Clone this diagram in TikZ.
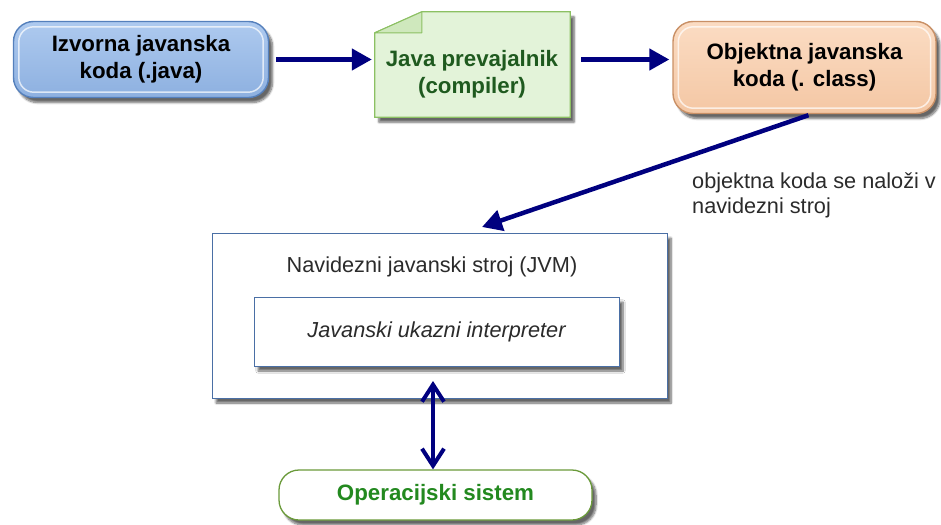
\documentclass[tikz,border=0pt]{standalone}
\usepackage{fontspec}
\setmainfont{Liberation Sans}
\usetikzlibrary{arrows.meta,shadows.blur,calc}

\definecolor{navyarrow}{HTML}{00007F}
\definecolor{srcfillA}{HTML}{AECAEF}
\definecolor{srcfillB}{HTML}{8DB0E0}
\definecolor{srcline}{HTML}{5580BC}
\definecolor{notefill}{HTML}{E3F3D9}
\definecolor{notefold}{HTML}{CFE8BD}
\definecolor{noteline}{HTML}{8CC063}
\definecolor{notetext}{HTML}{1F5A1F}
\definecolor{objfillA}{HTML}{FBDCC3}
\definecolor{objfillB}{HTML}{F4C7A4}
\definecolor{objline}{HTML}{C99066}
\definecolor{vmline}{HTML}{4A6FA5}
\definecolor{osline}{HTML}{6A9A3A}
\definecolor{ostext}{HTML}{23891F}
\definecolor{labeltext}{HTML}{2B2B2B}

\tikzset{
  softshadow/.style={blur shadow={shadow xshift=4pt, shadow yshift=-5pt,
      shadow blur steps=8, shadow opacity=60}},
  txt/.style={font=\fontsize{21.7}{26}\selectfont, align=center},
  boldtxt/.style={align=center, font=\fontsize{22.3}{27}\selectfont\bfseries},
  glossbox/.style={rounded corners=20pt, inner sep=0pt, line width=1.4pt, softshadow},
  srcbox/.style={glossbox, draw=srcline, top color=srcfillA, bottom color=srcfillB,
      minimum width=255pt, minimum height=76pt},
  objbox/.style={glossbox, draw=objline, top color=objfillA, bottom color=objfillB,
      minimum width=263pt, minimum height=92pt},
  highlight/.style={draw=white, opacity=.7, line width=1.5pt, rounded corners=15pt},
  notearea/.style={inner sep=0pt, minimum width=195pt, minimum height=105pt},
  notebody/.style={fill=notefill, draw=noteline, line width=1.2pt, softshadow},
  vmbox/.style={draw=vmline, fill=white, line width=1pt, inner sep=0pt, softshadow},
  osbox/.style={draw=osline, fill=white, line width=1.3pt, rounded corners=20pt,
      inner sep=0pt, minimum width=313pt, minimum height=50pt, softshadow,
      text=ostext, boldtxt},
  flow/.style={draw=navyarrow, line width=4.5pt,
      -{Triangle[length=20pt, width=21pt]}},
  twoway/.style={draw=navyarrow, line width=4pt,
      {Straight Barb[length=17pt, width=22pt, line width=4pt]}-{Straight Barb[length=17pt, width=22pt, line width=4pt]}},
}

\begin{document}
\begin{tikzpicture}[x=1pt, y=-1pt]
\useasboundingbox (0,0) rectangle (941,524);

% source code box
\node[srcbox] (src) at (141,59.5) {};
\draw[highlight] ($(src.north west)+(6,6)$) rectangle ($(src.south east)+(-6,-6)$);
\node[boldtxt, text=black] (srctext) at (src) {Izvorna javanska\\koda (.java)};

% compiler note with folded corner
\node[notearea] (comp) at (472.5,64.5) {};
\path[notebody] (comp.south west) -- ($(comp.north west)+(0,21)$)
  -- ($(comp.north west)+(47,0)$) -- (comp.north east) -- (comp.south east) -- cycle;
\path[fill=notefold, draw=noteline, line width=1pt, line join=round]
  ($(comp.north west)+(0,21)$) -- ($(comp.north west)+(47,0)$)
  -- ($(comp.north west)+(47,21)$) -- cycle;
\node[boldtxt, text=notetext] (comptext) at (472,74) {Java prevajalnik\\(compiler)};

% object code box
\node[objbox] (obj) at (804.5,67.5) {};
\draw[highlight] ($(obj.north west)+(6,6)$) rectangle ($(obj.south east)+(-6,-6)$);
\node[boldtxt, text=black] (objtext) at (obj) {Objektna javanska\\koda (. class)};

% virtual machine
\node[vmbox, minimum width=455pt, minimum height=165pt] (jvm) at (439.5,315.5) {};
\node[txt, text=labeltext] (jvmtitle) at (432,267) {Navidezni javanski stroj (JVM)};
\node[vmbox, minimum width=365pt, minimum height=69pt, text=labeltext,
      font=\fontsize{21.7}{26}\selectfont\itshape] (interp) at (436.5,331.5)
  {Javanski ukazni interpreter};

% operating system
\node[osbox] (os) at (435.5,495) {Operacijski sistem};

% connectors
\coordinate (loadpt) at (482,227);
\coordinate (jvmtap) at (433,381);
\draw[flow] ([xshift=7pt]src.east) -- ([xshift=-3pt]src.east -| comp.west);
\draw[flow] ([xshift=11pt]comp.east |- src.east) -- ([xshift=-3pt]src.east -| obj.west);
\draw[flow] ([xshift=4pt,yshift=-1pt]obj.south) -- (loadpt);
\draw[twoway] (os.north -| jvmtap) -- (jvmtap);

% label on the load arrow
\node[anchor=west, align=left, text=labeltext, font=\fontsize{21.7}{25}\selectfont,
      inner sep=0pt] (loadlabel) at (692,195)
  {objektna koda se naloži v\\navidezni stroj};
\end{tikzpicture}
\end{document}
